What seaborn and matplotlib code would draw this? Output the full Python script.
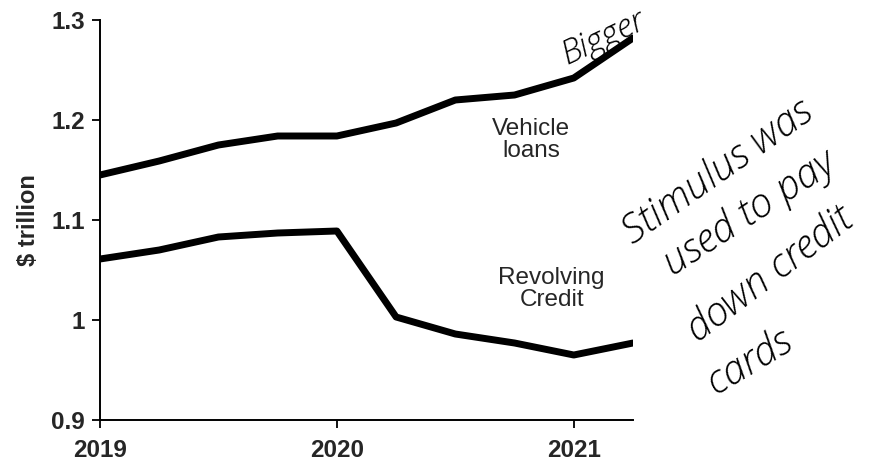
import matplotlib
matplotlib.use("Agg")
import matplotlib.pyplot as plt
import seaborn as sns
import pandas as pd

quarters = [2019.0, 2019.25, 2019.5, 2019.75, 2020.0, 2020.25, 2020.5, 2020.75, 2021.0, 2021.25]
vehicle_loans = [1.145, 1.159, 1.175, 1.184, 1.184, 1.197, 1.220, 1.225, 1.242, 1.282]
revolving_credit = [1.061, 1.070, 1.083, 1.087, 1.089, 1.003, 0.986, 0.977, 0.965, 0.977]
x_ticks = [2019, 2020, 2021]
y_ticks = [0.9, 1.0, 1.1, 1.2, 1.3]
y_tick_labels = ["0.9", "1", "1.1", "1.2", "1.3"]

df = pd.DataFrame({
    "quarter": quarters * 2,
    "value": vehicle_loans + revolving_credit,
    "series": ["Vehicle loans"] * len(quarters) + ["Revolving Credit"] * len(quarters),
})

sns.set_theme(style="ticks")
plt.rcParams["font.family"] = ["Liberation Sans", "DejaVu Sans"]

fig = plt.figure(figsize=(8.74, 4.63), dpi=100)
ax = fig.add_axes([100 / 874, 1 - 420 / 463, 533 / 874, 400 / 463])

sns.lineplot(data=df, x="quarter", y="value", units="series", estimator=None,
             color="black", linewidth=5, ax=ax, legend=False)

ax.set_xlim(2019, 2021.25)
ax.set_ylim(0.9, 1.3)
ax.set_xticks(x_ticks)
ax.set_xticklabels([str(t) for t in x_ticks], fontsize=17.5, fontweight="bold")
ax.set_yticks(y_ticks)
ax.set_yticklabels(y_tick_labels, fontsize=17.5, fontweight="bold")
ax.tick_params(axis="x", pad=8)
ax.tick_params(axis="y", pad=5)
ax.tick_params(axis="both", direction="out", length=6, width=1.3, color="black")
ax.set_xlabel("")
ax.set_ylabel("$ trillion", fontsize=17, fontweight="bold", labelpad=8)
sns.despine(ax=ax)
for s in ["left", "bottom"]:
    ax.spines[s].set_linewidth(1.4)
    ax.spines[s].set_color("black")

ax.text(2020.82, 1.18, "Vehicle\nloans", ha="center", va="center", fontsize=17.5, linespacing=1.05)
ax.text(2020.907, 1.031, "Revolving\nCredit", ha="center", va="center", fontsize=17.5, linespacing=1.05)

hand = dict(fontstyle="italic", fontweight="light", color="black",
            family=["Open Sans", "DejaVu Sans"],
            ha="center", va="center", transform=fig.transFigure)
fig.text(603 / 874, 1 - 38 / 463, "Bigger", rotation=25, fontsize=24, **hand)
fig.text(718 / 874, 1 - 172 / 463, "Stimulus was", rotation=35, fontsize=29, **hand)
fig.text(750 / 874, 1 - 213 / 463, "used to pay", rotation=33, fontsize=29, **hand)
fig.text(770 / 874, 1 - 275 / 463, "down credit", rotation=37, fontsize=29, **hand)
fig.text(750 / 874, 1 - 362 / 463, "cards", rotation=31, fontsize=29, **hand)

fig.savefig("out.png", dpi=100)
